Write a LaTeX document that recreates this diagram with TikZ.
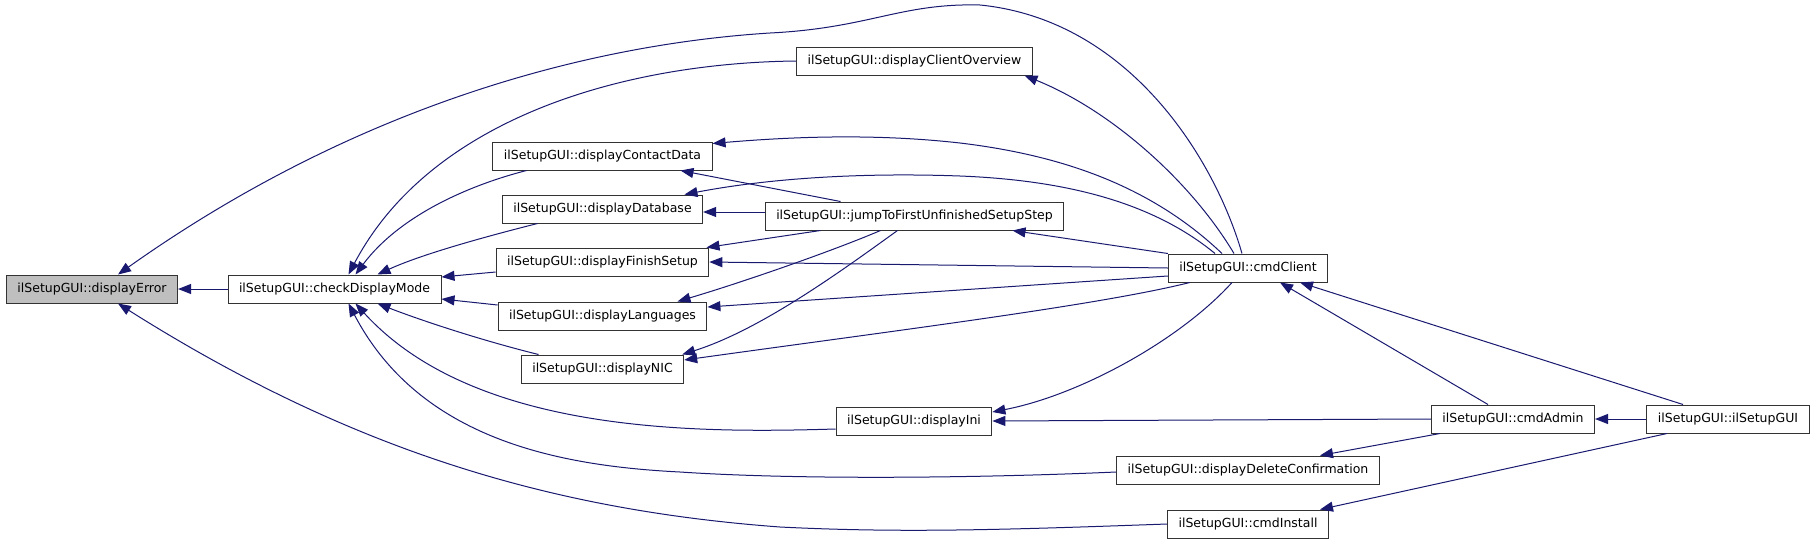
\documentclass[tikz,border=0pt]{standalone}
\usepackage{fontspec}
\setmainfont{DejaVu Sans}
\usepackage{tikz}
\usetikzlibrary{arrows.meta}
\definecolor{midnight}{RGB}{25,25,112}
\tikzstyle{fn} = [draw=black!80, fill=white, rectangle, line width=1pt, minimum height=28pt, inner xsep=11pt, font={\fontsize{12.5}{14}\selectfont}]
\tikzstyle{cur} = [fill=black!25]
\tikzstyle{call} = [draw=midnight, line width=1pt, -{Triangle[length=13pt,width=10pt]}]

\begin{document}
\begin{tikzpicture}[x=1pt,y=-1pt]
  \useasboundingbox (0,0) rectangle (1816,544);
  \node[fn,cur](0) at (92,289){ilSetupGUI::displayError};
  \node[fn](1) at (334.5,289){ilSetupGUI::checkDisplayMode};
  \node[fn](2) at (914.5,61){ilSetupGUI::displayClientOverview};
  \node[fn](3) at (602.5,156){ilSetupGUI::displayContactData};
  \node[fn](4) at (602.5,209){ilSetupGUI::displayDatabase};
  \node[fn](5) at (914.5,216){ilSetupGUI::jumpToFirstUnfinishedSetupStep};
  \node[fn](6) at (602.5,262){ilSetupGUI::displayFinishSetup};
  \node[fn](7) at (602.5,316){ilSetupGUI::displayLanguages};
  \node[fn](8) at (602.5,369){ilSetupGUI::displayNIC};
  \node[fn](9) at (914,421){ilSetupGUI::displayIni};
  \node[fn](10) at (1248,268){ilSetupGUI::cmdClient};
  \node[fn](11) at (1513,419){ilSetupGUI::cmdAdmin};
  \node[fn](12) at (1728,419){ilSetupGUI::ilSetupGUI};
  \node[fn](13) at (1248,470){ilSetupGUI::displayDeleteConfirmation};
  \node[fn](14) at (1248,524){ilSetupGUI::cmdInstall};
  % callers of displayError
  \draw[call](1)--(0);
  \draw[call]([xshift=-6pt]10.north) .. controls (1215,160) and (1130,20) .. (980,5)
    .. controls (900,3) and (870,28) .. (770,33)
    .. controls (580,45) and (350,110) .. ([xshift=26pt]0.north);
  \draw[call](14.west) .. controls (1000,530) and (900,533) .. (780,527)
    .. controls (550,510) and (350,450) .. ([xshift=26pt]0.south);
  % callers of checkDisplayMode
  \draw[call](2.west) .. controls (620,63) and (430,120) .. ([xshift=14pt]1.north);
  \draw[call]([xshift=-76pt]3.south) .. controls (470,185) and (400,215) .. ([xshift=21pt]1.north);
  \draw[call]([xshift=-65pt]4.south) .. controls (480,238) and (420,255) .. ([xshift=43pt]1.north);
  \draw[call]([yshift=-10pt]6.west)--([yshift=12pt]1.east);
  \draw[call]([yshift=11pt]7.west)--([yshift=-10pt]1.east);
  \draw[call]([xshift=-64pt]8.north) .. controls (480,340) and (420,320) .. ([xshift=43pt]1.south);
  \draw[call]([yshift=-8pt]9.west) .. controls (700,433) and (475,435) .. ([xshift=21pt]1.south);
  \draw[call]([yshift=-2pt]13.west) .. controls (980,478) and (800,480) .. (680,472)
    .. controls (560,466) and (420,440) .. ([xshift=14pt]1.south);
  % jumpToFirstUnfinishedSetupStep
  \draw[call]([xshift=-74pt]5.north)--([xshift=78pt]3.south);
  \draw[call]([yshift=4pt]5.west)--([yshift=-3pt]4.east);
  \draw[call]([xshift=-94pt]5.south)--([xshift=104pt]6.north);
  \draw[call]([xshift=-34pt]5.south) .. controls (830,252) and (740,283) .. ([xshift=75pt]7.north);
  \draw[call]([xshift=-17pt]5.south) .. controls (840,272) and (760,330) .. ([xshift=-2pt]8.north east);
  % cmdClient
  \draw[call]([xshift=-14pt]10.north) .. controls (1190,180) and (1110,110) .. ([xshift=110pt]2.south);
  \draw[call]([xshift=-26pt]10.north) .. controls (1150,185) and (1060,155) .. (960,143)
    .. controls (880,134) and (800,136) .. ([yshift=-2pt]3.north east);
  \draw[call]([xshift=-33pt]10.north) .. controls (1150,200) and (1060,180) .. (960,176)
    .. controls (850,172) and (760,180) .. ([xshift=82pt]4.north);
  \draw[call](10.north west)--([xshift=98pt]5.south);
  \draw[call](10.west)--(6.east);
  \draw[call]([yshift=-8pt]10.west)--([yshift=9pt]7.east);
  \draw[call]([xshift=22pt]10.south west) .. controls (1100,305) and (900,330) .. ([yshift=9pt]8.east);
  \draw[call]([xshift=-16pt]10.south) .. controls (1180,340) and (1080,395) .. ([yshift=9pt]9.east);
  % cmdAdmin and ilSetupGUI
  \draw[call]([xshift=-25pt]11.north)--([xshift=32pt]10.south);
  \draw[call]([xshift=-45pt]12.north)--([xshift=52pt]10.south);
  \draw[call](12)--(11);
  \draw[call]([xshift=-61pt]12.south)--([xshift=72pt]14.north);
  \draw[call]([xshift=-73pt]11.south)--([xshift=72pt]13.north);
  \draw[call](11.west)--(9.east);
\end{tikzpicture}
\end{document}
